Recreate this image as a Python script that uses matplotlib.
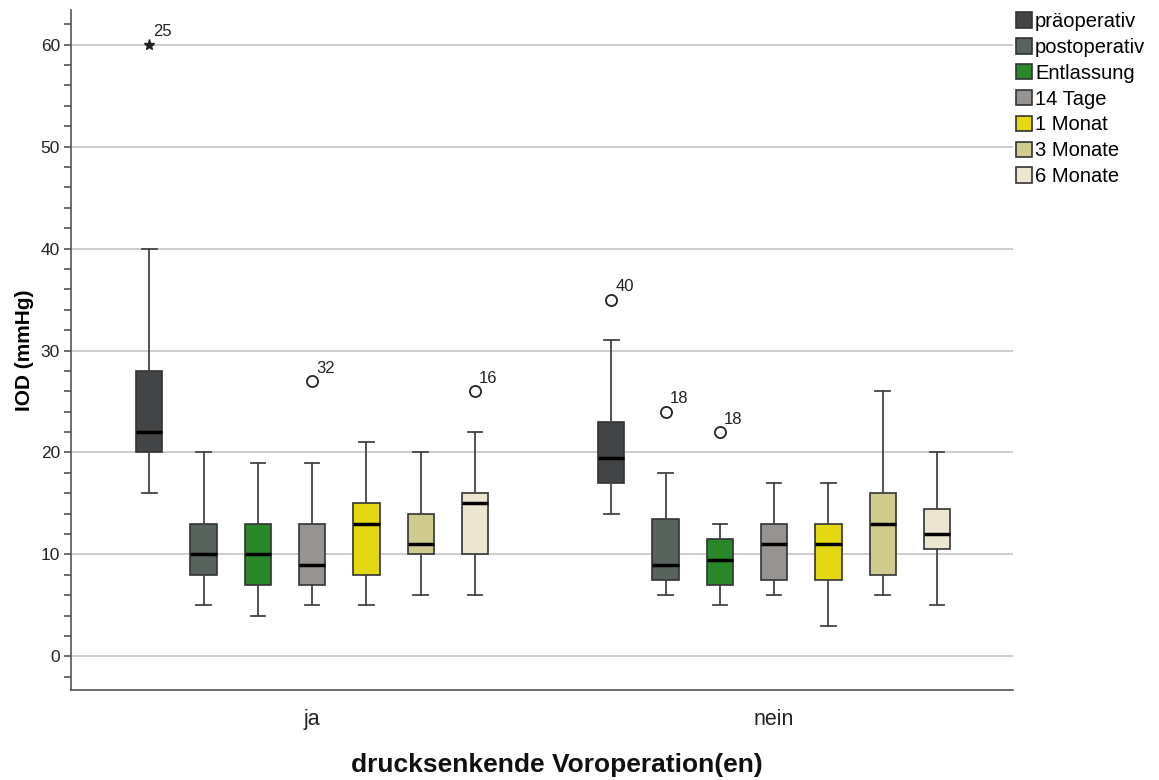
import matplotlib.pyplot as plt
from matplotlib.patches import Patch

plt.rcParams['font.family'] = ['Liberation Sans', 'DejaVu Sans']

# Gruppen und Messzeitpunkte
groups = ['ja', 'nein']
series = ['präoperativ', 'postoperativ', 'Entlassung', '14 Tage',
          '1 Monat', '3 Monate', '6 Monate']
colors = ['#434446', '#59635e', '#2a882a', '#979391',
          '#e4d911', '#d0cb8f', '#ece5cf']

# Kennwerte je Gruppe (Reihenfolge wie series)
ja_whislo = [16, 5, 4, 5, 5, 6, 6]
ja_q1 = [20, 8, 7, 7, 8, 10, 10]
ja_med = [22, 10, 10, 9, 13, 11, 15]
ja_q3 = [28, 13, 13, 13, 15, 14, 16]
ja_whishi = [40, 20, 19, 19, 21, 20, 22]

nein_whislo = [14, 6, 5, 6, 3, 6, 5]
nein_q1 = [17, 7.5, 7, 7.5, 7.5, 8, 10.5]
nein_med = [19.5, 9, 9.5, 11, 11, 13, 12]
nein_q3 = [23, 13.5, 11.5, 13, 13, 16, 14.5]
nein_whishi = [31, 18, 13, 17, 17, 26, 20]

# Ausreißer: (Gruppe, Zeitpunkt, Wert, Fallnummer, extrem)
outliers = [
    (0, 0, 60, '25', True),
    (0, 3, 27, '32', False),
    (0, 6, 26, '16', False),
    (1, 0, 35, '40', False),
    (1, 1, 24, '18', False),
    (1, 2, 22, '18', False),
]

stats_by_group = [
    (ja_whislo, ja_q1, ja_med, ja_q3, ja_whishi),
    (nein_whislo, nein_q1, nein_med, nein_q3, nein_whishi),
]

fig = plt.figure(figsize=(11.59, 7.80), dpi=100)
ax = fig.add_axes([71 / 1159, 1 - 690 / 780, (1013 - 71) / 1159, 680 / 780])

step = 0.1175
width = 0.057
n = len(series)

ax.yaxis.grid(True, color='#c9c9c9', linewidth=1.3, zorder=0)
ax.set_axisbelow(True)

for g, (wlo, q1, med, q3, whi) in enumerate(stats_by_group):
    for i in range(n):
        pos = g + (i - (n - 1) / 2) * step
        st = dict(whislo=wlo[i], q1=q1[i], med=med[i], q3=q3[i],
                  whishi=whi[i], fliers=[])
        ax.bxp([st], positions=[pos], widths=width, patch_artist=True,
               showfliers=False, manage_ticks=False,
               boxprops=dict(facecolor=colors[i], edgecolor='#333333', linewidth=1.2),
               medianprops=dict(color='black', linewidth=2.5),
               whiskerprops=dict(color='#444444', linewidth=1.3),
               capprops=dict(color='#444444', linewidth=1.3),
               capwidths=width * 0.55)

for g, i, val, label, extreme in outliers:
    pos = g + (i - (n - 1) / 2) * step
    if extreme:
        ax.plot(pos, val, marker='*', color='#222222', markersize=8, zorder=3)
    else:
        ax.plot(pos, val, marker='o', markerfacecolor='white',
                markeredgecolor='#222222', markeredgewidth=1.3,
                markersize=8, linestyle='none', zorder=3)
    ax.annotate(label, (pos, val), xytext=(3, 4), textcoords='offset points',
                ha='left', va='bottom', fontsize=12, color='#222222')

ax.set_xlim(-0.522, 1.517)
ax.set_ylim(-3.3, 63.4)
ax.set_xticks([0, 1])
ax.set_xticklabels(groups, fontsize=15.5, color='#222222')
ax.tick_params(axis='x', length=0, pad=14)
ax.set_yticks(range(0, 61, 10))
ax.set_yticks(range(-2, 63, 2), minor=True)
ax.tick_params(axis='y', which='major', length=5, width=1.2, color='#555555',
               labelsize=12.5, labelcolor='#222222', pad=3)
ax.tick_params(axis='y', which='minor', length=5, width=1.2, color='#555555')

for side in ['top', 'right']:
    ax.spines[side].set_visible(False)
for side in ['left', 'bottom']:
    ax.spines[side].set_color('#555555')
    ax.spines[side].set_linewidth(1.2)

ax.set_ylabel('IOD (mmHg)', fontsize=15, fontweight='bold', labelpad=5)
fig.text(557 / 1159, 8 / 780, 'drucksenkende Voroperation(en)',
         fontsize=19, fontweight='bold', ha='center', va='baseline',
         color='#111111')

handles = [Patch(facecolor=c, edgecolor='#333333', linewidth=1.2) for c in colors]
fig.legend(handles, series, loc='upper left',
           bbox_to_anchor=(1016 / 1159, 1 - 12 / 780), frameon=False,
           fontsize=14.5, handlelength=0.8, handleheight=0.8,
           handletextpad=0.15, labelspacing=0.34, borderaxespad=0,
           borderpad=0)

fig.savefig('out.png', dpi=100)
